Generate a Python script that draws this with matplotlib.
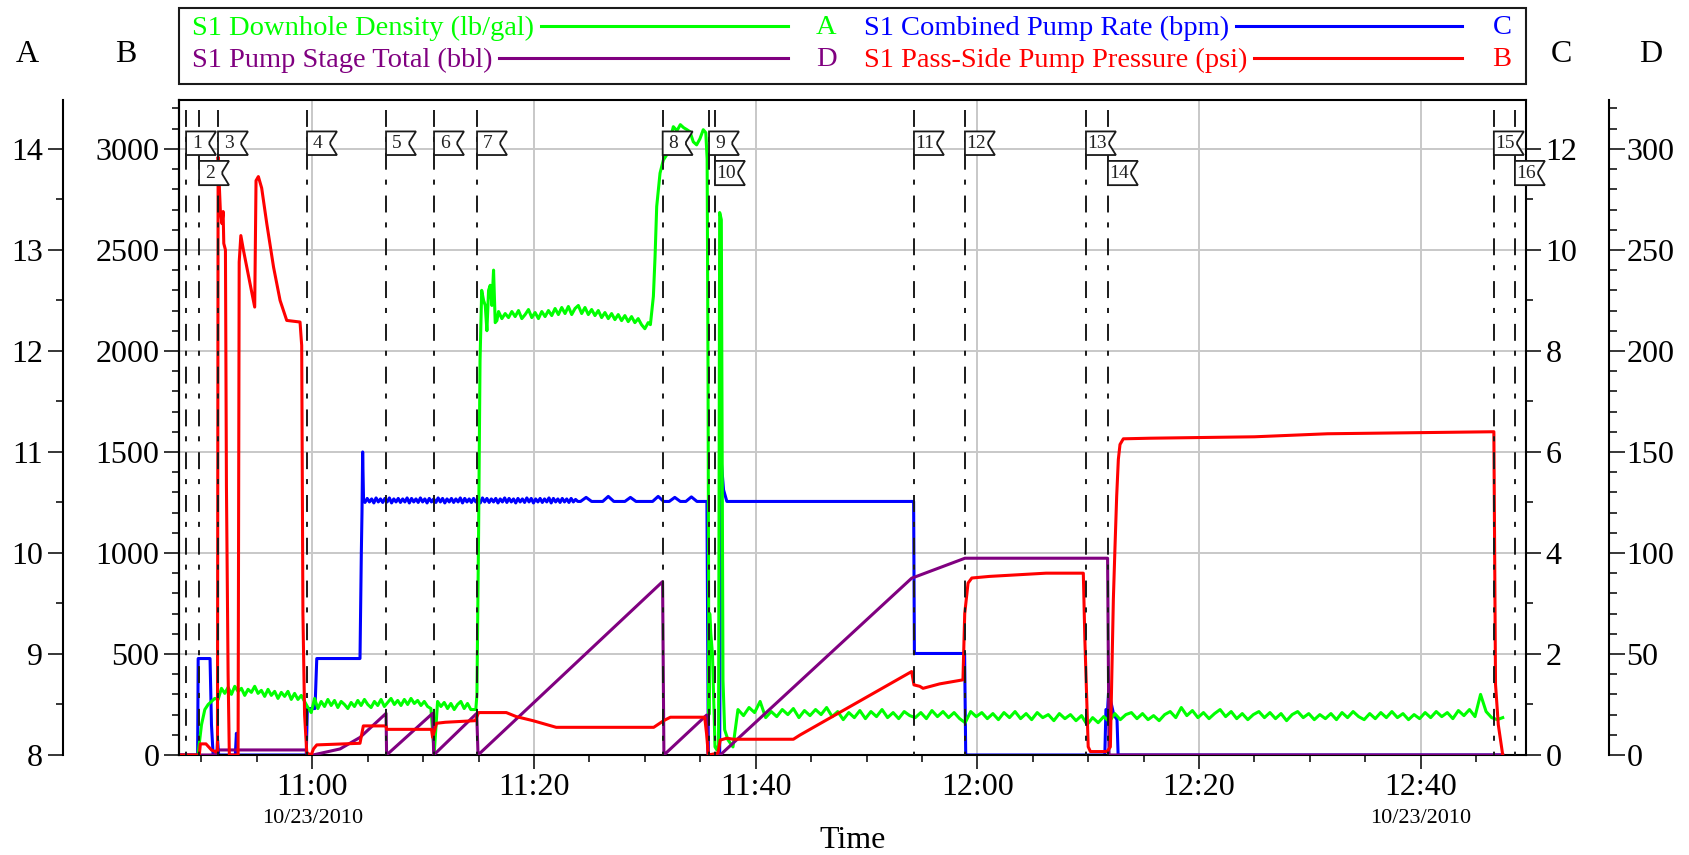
import numpy as np
import matplotlib
matplotlib.use("Agg")
import matplotlib.pyplot as plt
import matplotlib.dates as mdates
from matplotlib.patches import Polygon, Rectangle
from matplotlib.lines import Line2D
from matplotlib.ticker import MultipleLocator

plt.rcParams['font.family'] = ['Liberation Serif', 'DejaVu Serif']

# ----------------- data (time in minutes after 11:00, 10/23/2010) -----------------
T0 = np.datetime64('2010-10-23T11:00:00')

# S1 Pass-Side Pump Pressure (psi)
press_t = [-12.03, -10.2, -10.1, -9.6, -9.1, -8.7, -8.56, -8.5, -8.3, -8.15, -8.05, -7.99, -7.84,
           -7.75, -7.6, -7.49, -6.7, -6.6, -6.45, -6.22, -5.62, -5.2, -5.08, -4.87, -4.57, -4.11,
           -3.5, -2.91, -2.31, -1.11, -0.96, -0.85, -0.7, -0.5, -0.1, 0.1, 0.4, 4.3, 4.6, 6.65,
           6.7, 10.75, 10.85, 11.2, 12.0, 14.7, 15.0, 17.5, 18.4, 19.9, 22.0, 30.8, 31.7, 32.3,
           35.4, 35.58, 35.73, 36.2, 36.6, 36.8, 37.4, 38.0, 43.4, 44.0, 54.07, 54.28, 54.8, 55.1,
           56.6, 58.7, 58.86, 59.16, 59.5, 61.1, 66.2, 69.56, 69.7, 69.87, 70.0, 70.2, 71.7, 72.0,
           72.27, 72.42, 72.57, 72.72, 72.87, 73.17, 75.6, 85.0, 91.6, 106.6, 106.75, 107.0, 107.4]
press_v = [0, 0, 55, 55, 25, 15, 20, 2960, 2695, 2630, 2690, 2532, 2500,
           1330, 400, 0, 0, 2440, 2571, 2500, 2333, 2217, 2843, 2863, 2806, 2630,
           2415, 2250, 2151, 2143, 2027, 700, 200, 10, 0, 30, 50, 58, 144, 144,
           127, 127, 88, 157, 162, 170, 210, 210, 190, 170, 137, 137, 170, 187,
           187, 100, 0, 5, 10, 74, 83, 78, 78, 99, 413, 347, 340, 330,
           352, 372, 700, 851, 876, 884, 900, 900, 570, 273, 41, 17, 17, 40,
           770, 1033, 1281, 1463, 1537, 1565, 1568, 1575, 1590, 1600, 350, 150, 0]

# S1 Combined Pump Rate (bpm)
rate_t1 = [-12.03, -10.35, -10.3, -9.23, -9.1, -8.95, -8.62, -8.55, -8.45, -6.95, -6.85, -6.75,
           -0.55, -0.45, 0.24, 0.4, 4.3, 4.42, 4.48, 4.54, 4.62]
rate_v1 = [0, 0, 1.91, 1.91, 0.6, 0, 0, 0.3, 0, 0, 0.43, 0,
           0, 0.92, 0.92, 1.91, 1.91, 4.0, 4.8, 6.0, 5.05]
rate_band_start, rate_band_step = 4.75, 0.2
rate_band_v = [5.00, 5.08, 5.01, 5.07, 4.99, 5.09, 5.01, 5.07, 5.00, 5.08,
               5.01, 5.09, 4.99, 5.07, 5.01, 5.08, 5.00, 5.07, 5.01, 5.09,
               4.99, 5.08, 5.01, 5.07, 5.00, 5.09, 5.01, 5.07, 4.99, 5.08,
               5.01, 5.07, 5.00, 5.09, 5.01, 5.08, 4.99, 5.07, 5.01, 5.08,
               5.00, 5.07, 5.01, 5.09, 4.99, 5.08, 5.01, 5.07, 5.00, 5.08,
               5.01, 5.07, 4.99, 5.09, 5.01, 5.08, 5.00, 5.07, 5.01, 5.08,
               4.99, 5.07, 5.01, 5.09, 5.00, 5.08, 5.01, 5.07, 4.99, 5.08,
               5.01, 5.07, 5.00, 5.09, 5.01, 5.08, 4.99, 5.07, 5.01, 5.08,
               5.00, 5.07, 5.01, 5.09, 4.99, 5.08, 5.01, 5.07, 5.00, 5.08,
               5.01, 5.07, 5.00, 5.08, 5.01, 5.06, 5.02]
rate_tail_start, rate_tail_step = 24.2, 0.5
rate_tail_v = [5.02, 5.10, 5.02, 5.02, 5.02, 5.12, 5.02, 5.02, 5.02, 5.10, 5.02,
               5.02, 5.02, 5.02, 5.12, 5.02, 5.02, 5.10, 5.02, 5.02, 5.11, 5.02, 5.02]
rate_t3 = [35.6, 35.73, 36.75, 36.85, 37.1, 37.4, 54.25, 54.32, 58.85, 58.95, 71.5, 71.6, 71.75,
           71.85, 72.0, 72.3, 72.6, 72.7, 107.4]
rate_v3 = [5.02, 0, 0, 5.94, 5.25, 5.02, 5.02, 2.01, 2.01, 0, 0, 0.9, 0.9,
           1.3, 1.1, 0.8, 0.7, 0, 0]

# S1 Pump Stage Total (bbl)
stage_t = [-12.03, -8.7, -8.6, -0.55, -0.45, 0.05, 2.5, 4.3, 6.65, 6.7, 10.85, 10.95, 14.83, 14.95,
           31.6, 31.72, 35.58, 35.7, 36.8, 54.07, 58.88, 71.75, 71.88, 107.4]
stage_v = [0, 0, 2.5, 2.5, 0, 0, 3.0, 8.7, 20.6, 0, 20.6, 0, 20.6, 0,
           85.8, 0, 19.8, 0, 0, 87.5, 97.4, 97.4, 0, 0]

# S1 Downhole Density (lb/gal)
dens_a_start, dens_a_step = -10.3, 0.3
dens_a_v = [8.02, 8.30, 8.45, 8.50, 8.53, 8.56, 8.55, 8.66, 8.61, 8.67,
            8.60, 8.68, 8.63, 8.66, 8.59, 8.65, 8.62, 8.68, 8.61, 8.64,
            8.58, 8.65, 8.59, 8.63, 8.56, 8.62, 8.58, 8.63, 8.55, 8.61,
            8.55, 8.59, 8.53, 8.47, 8.42, 8.56, 8.46, 8.53, 8.48, 8.55,
            8.49, 8.54, 8.47, 8.53, 8.50, 8.46, 8.52, 8.48, 8.54, 8.49,
            8.55, 8.50, 8.47, 8.53, 8.49, 8.55, 8.48, 8.52, 8.56, 8.50,
            8.54, 8.49, 8.55, 8.50, 8.56, 8.51, 8.54, 8.49, 8.53, 8.48,
            8.46, 8.02, 8.53, 8.48, 8.52, 8.46, 8.51, 8.45, 8.50, 8.53,
            8.46, 8.51, 8.45, 8.45]
dens_rise_t = [14.75, 14.85, 15.0, 15.13, 15.28, 15.45, 15.6, 15.75, 15.9, 16.05, 16.2, 16.35, 16.5, 16.65]
dens_rise_v = [8.45, 8.6, 10.2, 11.9, 12.6, 12.5, 12.45, 12.2, 12.6, 12.65, 12.45, 12.8, 12.28, 12.3]
dens_b_start, dens_b_step = 16.8, 0.3
dens_b_v = [12.39, 12.32, 12.37, 12.33, 12.39, 12.34, 12.40, 12.32, 12.36, 12.41,
            12.33, 12.38, 12.32, 12.39, 12.34, 12.40, 12.35, 12.42, 12.36, 12.43,
            12.37, 12.44, 12.36, 12.42, 12.45, 12.37, 12.43, 12.36, 12.41, 12.35,
            12.40, 12.33, 12.38, 12.32, 12.37, 12.31, 12.36, 12.30, 12.35, 12.29,
            12.34, 12.28, 12.32, 12.26, 12.22, 12.28]
dens_top_t = [30.5, 30.77, 30.92, 31.07, 31.37, 31.67, 31.97, 32.27, 32.57, 32.9, 33.2, 33.5, 33.8,
              34.07, 34.37, 34.67, 34.97, 35.27, 35.5, 35.62, 35.7, 35.78, 35.85, 35.95, 36.1,
              36.33, 36.5, 36.65, 36.75, 36.9, 37.05, 37.2, 37.5, 37.95]
dens_top_v = [12.26, 12.54, 12.93, 13.43, 13.76, 13.89, 13.94, 14.09, 14.22, 14.18, 14.24, 14.21, 14.19,
              14.17, 14.07, 14.04, 14.10, 14.19, 14.16, 13.9, 11.8, 8.4, 9.4, 9.2, 9.0,
              8.08, 8.05, 8.1, 13.37, 13.3, 8.74, 8.25, 8.15, 8.08]
dens_c_start, dens_c_step = 38.4, 0.5
dens_c_v = [8.45, 8.39, 8.47, 8.42, 8.53, 8.37, 8.43, 8.38, 8.45, 8.40,
            8.46, 8.37, 8.44, 8.39, 8.45, 8.40, 8.47, 8.38, 8.43, 8.35,
            8.42, 8.37, 8.44, 8.36, 8.43, 8.38, 8.45, 8.37, 8.42, 8.36,
            8.43, 8.39, 8.37, 8.42, 8.36, 8.44, 8.38, 8.43, 8.37, 8.42,
            8.36, 8.32, 8.43, 8.38, 8.42, 8.36, 8.41, 8.35, 8.42, 8.37,
            8.43, 8.36, 8.41, 8.35, 8.42, 8.37, 8.40, 8.34, 8.41, 8.36,
            8.40, 8.34, 8.39, 8.30, 8.37, 8.32, 8.38, 8.33, 8.41, 8.35,
            8.40, 8.42, 8.36, 8.41, 8.35, 8.39, 8.34, 8.40, 8.43, 8.37,
            8.47, 8.39, 8.44, 8.37, 8.42, 8.36, 8.41, 8.45, 8.38, 8.43,
            8.36, 8.41, 8.35, 8.40, 8.43, 8.37, 8.42, 8.36, 8.41, 8.34,
            8.40, 8.43, 8.37, 8.41, 8.35, 8.40, 8.36, 8.41, 8.35, 8.42,
            8.37, 8.43, 8.38, 8.35, 8.41, 8.36, 8.42, 8.37, 8.43, 8.37,
            8.41, 8.35, 8.40, 8.36, 8.42, 8.37, 8.43, 8.38, 8.42, 8.36,
            8.44, 8.39, 8.45, 8.38, 8.60, 8.43, 8.37, 8.35, 8.37]

# event markers
event_t = [-11.39, -10.22, -8.51, -0.48, 6.65, 10.98, 14.86, 31.61, 35.79, 36.33,
           54.28, 58.88, 69.80, 71.78, 106.6, 108.5]
event_row = [0, 1, 0, 0, 0, 0, 0, 0, 0, 1, 0, 0, 0, 1, 0, 1]

date_label_t = [0, 100]

legend_labels = ['S1 Downhole Density (lb/gal)', 'S1 Combined Pump Rate (bpm)',
                 'S1 Pump Stage Total (bbl)', 'S1 Pass-Side Pump Pressure (psi)']
legend_letters = ['A', 'C', 'D', 'B']
legend_colors = ['#00ff00', '#0000ff', '#800080', '#ff0000']


def clock(minutes):
    ms = np.round(np.asarray(minutes, dtype=float) * 60000).astype(np.int64)
    return T0 + ms.astype('timedelta64[ms]')


def regular(start, step, values):
    return list(start + step * np.arange(len(values)))


rate_t = rate_t1 + regular(rate_band_start, rate_band_step, rate_band_v) \
    + regular(rate_tail_start, rate_tail_step, rate_tail_v) + rate_t3
rate_v = rate_v1 + rate_band_v + rate_tail_v + rate_v3
dens_t = regular(dens_a_start, dens_a_step, dens_a_v) + dens_rise_t \
    + regular(dens_b_start, dens_b_step, dens_b_v) + dens_top_t \
    + regular(dens_c_start, dens_c_step, dens_c_v)
dens_v = dens_a_v + dens_rise_v + dens_b_v + dens_top_v + dens_c_v

# ----------------- figure / axes -----------------
W, H = 1690, 855
fig = plt.figure(figsize=(W / 100, H / 100), dpi=100)
ax_c = fig.add_axes([179 / W, 100 / H, 1347 / W, 655 / H])
ax_a = ax_c.twinx()
ax_d = ax_c.twinx()
ax_b = ax_c.twinx()

LW = 2.2
ax_c.plot(clock(rate_t), rate_v, color='#0000ff', lw=LW)
ax_a.plot(clock(dens_t), dens_v, color='#00ff00', lw=LW)
ax_d.plot(clock(stage_t), stage_v, color='#800080', lw=LW)
ax_b.plot(clock(press_t), press_v, color='#ff0000', lw=LW)

xlim = (clock(-12.03), clock(109.5))
for ax in (ax_c, ax_a, ax_d, ax_b):
    ax.set_xlim(*xlim)
    ax.set_autoscale_on(False)

ax_b.set_ylim(0, 3242)
ax_a.set_ylim(8, 8 + 6 * 3242 / 3000)
ax_c.set_ylim(0, 12 * 3242 / 3000)
ax_d.set_ylim(0, 300 * 3242 / 3000)

# x axis
ax_c.xaxis.set_major_locator(mdates.MinuteLocator(byminute=[0, 20, 40]))
ax_c.xaxis.set_minor_locator(mdates.MinuteLocator(byminute=range(0, 60, 5)))
ax_c.xaxis.set_major_formatter(mdates.DateFormatter('%H:%M'))
ax_c.tick_params(axis='x', which='major', length=10, width=1.1, labelsize=23, pad=3)
ax_c.tick_params(axis='x', which='minor', length=5, width=1.1)
ax_c.grid(True, which='major', color='#c8c8c8', lw=1.4)

# y axes
ax_c.yaxis.tick_right()
ax_c.set_yticks(range(0, 13, 2))
ax_c.yaxis.set_minor_locator(MultipleLocator(1))
ax_c.tick_params(axis='y', which='major', length=10.5, width=1.1, labelsize=23, pad=3.5)
ax_c.tick_params(axis='y', which='minor', length=5, width=1.1)

ax_b.yaxis.tick_left()
ax_b.set_yticks(range(0, 3001, 500))
ax_b.yaxis.set_minor_locator(MultipleLocator(100))
ax_b.tick_params(axis='y', which='major', length=10.5, width=1.1, labelsize=23, pad=3.6)
ax_b.tick_params(axis='y', which='minor', length=5, width=1.1)

ax_a.yaxis.tick_left()
ax_a.set_yticks(range(8, 15))
ax_a.yaxis.set_minor_locator(MultipleLocator(0.5))
ax_a.tick_params(axis='y', which='major', length=10.5, width=1.1, labelsize=23, pad=4)
ax_a.tick_params(axis='y', which='minor', length=5, width=1.1)

ax_d.yaxis.tick_right()
ax_d.set_yticks(range(0, 301, 50))
ax_d.yaxis.set_minor_locator(MultipleLocator(10))
ax_d.tick_params(axis='y', which='major', length=11.5, width=1.1, labelsize=23, pad=1)
ax_d.tick_params(axis='y', which='minor', length=5.5, width=1.1)

for s in ax_c.spines.values():
    s.set_linewidth(1.5)
for ax in (ax_a, ax_d, ax_b):
    for s in ax.spines.values():
        s.set_visible(False)
ax_b.spines['left'].set_visible(True)
ax_b.spines['left'].set_linewidth(1.5)
ax_a.spines['left'].set_visible(True)
ax_a.spines['left'].set_linewidth(1.5)
ax_a.spines['left'].set_position(('outward', 83.5))
ax_d.spines['right'].set_visible(True)
ax_d.spines['right'].set_linewidth(1.5)
ax_d.spines['right'].set_position(('outward', 59.8))

# ----------------- event lines and flags -----------------
trans = ax_b.get_xaxis_transform()
flag_w = 2.7 / 1440
notch = 0.6 / 1440
rows = [(0.952, 0.916), (0.907, 0.870)]
for i, (t, r) in enumerate(zip(event_t, event_row)):
    xd = mdates.date2num(clock(t))
    ax_b.plot([xd, xd], [0.985, 0.0], transform=trans, color='#1a1a1a', lw=1.4,
              linestyle=(0, (8.7, 5.1, 2.6, 5.6)), zorder=4, clip_on=False)
    top, bot = rows[r]
    h = top - bot
    x1 = xd + flag_w
    verts = [(xd, bot), (xd, top), (x1, top), (x1 - 0.55 * notch, top - 0.25 * h),
             (x1 - notch, top - 0.45 * h), (x1 - notch, top - 0.55 * h),
             (x1 - 0.55 * notch, top - 0.75 * h), (x1, bot)]
    ax_b.add_patch(Polygon(verts, closed=True, transform=trans, facecolor='white',
                           edgecolor='#1a1a1a', lw=1.3, zorder=5, clip_on=False))
    ax_b.text(xd + 0.36 * flag_w, (top + bot) / 2, str(i + 1), transform=trans,
              ha='center', va='center', fontsize=14, color='#222222', zorder=6, clip_on=False)

# dates under the 11:00 and 12:40 labels
for t in date_label_t:
    ax_c.text(clock(t), -0.0977, '10/23/2010', transform=ax_c.get_xaxis_transform(),
              ha='center', va='center', fontsize=16)

fig.text(852.5 / W, 1 - 840 / H, 'Time', ha='center', va='center', fontsize=23)

# axis header letters
for letter, px in zip(['A', 'B', 'C', 'D'], [27, 126, 1561, 1651]):
    fig.text(px / W, 1 - 55 / H, letter, ha='center', va='center', fontsize=23)

# ----------------- legend box -----------------
fig.add_artist(Rectangle((179 / W, 1 - 84 / H), 1347 / W, 76 / H, transform=fig.transFigure,
                         fill=False, edgecolor='#1a1a1a', lw=1.5))
col_x = [192, 864, 192, 864]
line_end = [788, 1462, 788, 1462]
letter_x = [826, 1502, 826, 1502]
row_y = [28, 28, 60, 60]
texts = []
for lab, letter, c, tx, lx, ry in zip(legend_labels, legend_letters, legend_colors, col_x, letter_x, row_y):
    texts.append(fig.text(tx / W, 1 - ry / H, lab, color=c, fontsize=20.5, ha='left', va='center'))
    fig.text(lx / W, 1 - ry / H, letter, color=c, fontsize=20.5, ha='center', va='center')

fig.canvas.draw()
renderer = fig.canvas.get_renderer()
for txt, c, le, ry in zip(texts, legend_colors, line_end, row_y):
    bb = txt.get_window_extent(renderer)
    fig.add_artist(Line2D([(bb.x1 + 7) / W, le / W], [1 - (ry - 2) / H] * 2,
                          transform=fig.transFigure, color=c, lw=LW))

fig.savefig('out.png', dpi=100)
